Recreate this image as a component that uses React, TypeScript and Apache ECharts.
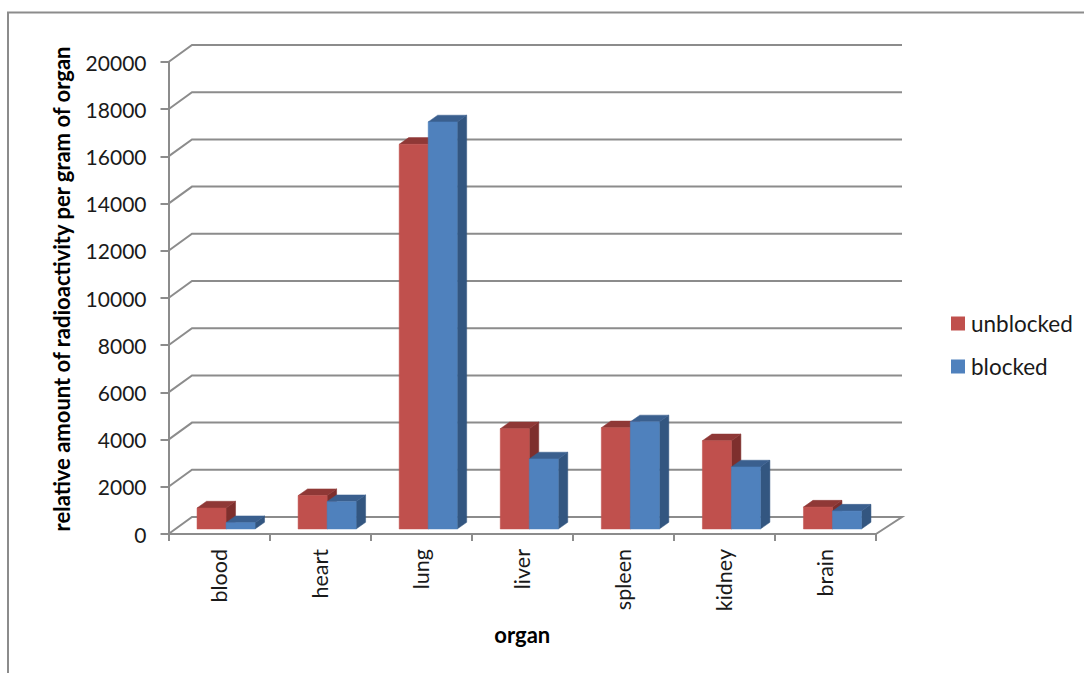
import React, { useEffect, useRef } from "react";
import * as echarts from "echarts";

const organs = ["blood", "heart", "lung", "liver", "spleen", "kidney", "brain"];
const unblocked = [890, 1415, 16300, 4250, 4290, 3740, 930];
const blocked = [270, 1160, 17250, 2970, 4540, 2630, 760];
const gridValues = [0, 2000, 4000, 6000, 8000, 10000, 12000, 14000, 16000, 18000, 20000];

const FONT = "Lato, 'Open Sans', sans-serif";
const LINE = "#8c8c8c";
const WALL = { dx: 23.5, dy: -17 };
const FLOOR = { dx: 7, dy: -5 };
const DEPTH = { dx: 9.5, dy: -6.7 };
const BAR_W = 29;

function barSeries(name: string, values: number[], offset: number, front: string, top: string, side: string) {
  return {
    type: "custom",
    name,
    silent: true,
    z: 5,
    itemStyle: { color: front },
    data: values.map((v, i) => [i, v]),
    encode: { x: 0, y: 1 },
    renderItem: (_: any, api: any) => {
      const t = api.coord([api.value(0), api.value(1)]);
      const b = api.coord([api.value(0), 0]);
      const x0 = t[0] + FLOOR.dx + offset * BAR_W;
      const x1 = x0 + BAR_W;
      const yt = t[1] + FLOOR.dy;
      const yb = b[1] + FLOOR.dy;
      const poly = (points: number[][], fill: string) => ({
        type: "polygon",
        shape: { points },
        style: { fill, stroke: fill, lineWidth: 0.5 },
      });
      return {
        type: "group",
        children: [
          poly([[x1, yb], [x1 + DEPTH.dx, yb + DEPTH.dy], [x1 + DEPTH.dx, yt + DEPTH.dy], [x1, yt]], side),
          poly([[x0, yt], [x0 + DEPTH.dx, yt + DEPTH.dy], [x1 + DEPTH.dx, yt + DEPTH.dy], [x1, yt]], top),
          poly([[x0, yt], [x1, yt], [x1, yb], [x0, yb]], front),
        ],
      };
    },
  };
}

export default function App() {
  const ref = useRef<HTMLDivElement>(null);
  useEffect(() => {
    const chart = echarts.init(ref.current!, undefined, { renderer: "svg" });
    chart.setOption({
      animation: false,
      backgroundColor: "#fff",
      textStyle: { fontFamily: FONT },
      grid: { left: 168.5, top: 62, width: 707.5, height: 472, containLabel: false },
      legend: {
        data: ["unblocked", "blocked"],
        orient: "vertical",
        left: 946,
        top: 307,
        itemWidth: 14,
        itemHeight: 14,
        itemGap: 20,
        icon: "rect",
        textStyle: { fontFamily: FONT, fontSize: 22.5, color: "#1a1a1a", padding: [0, 0, 0, 1] },
      },
      xAxis: {
        type: "category",
        data: organs,
        name: "organ",
        nameLocation: "middle",
        nameGap: 89,
        nameTextStyle: { fontFamily: FONT, fontSize: 22, fontWeight: "bold", color: "#000" },
        axisLine: { lineStyle: { color: LINE, width: 2 } },
        axisTick: { show: true, length: 7, alignWithLabel: false, lineStyle: { color: LINE, width: 2 } },
        axisLabel: { rotate: 90, margin: 15, fontFamily: FONT, fontSize: 21.5, color: "#1a1a1a" },
      },
      yAxis: {
        type: "value",
        min: 0,
        max: 20000,
        interval: 2000,
        name: "relative amount of radioactivity per gram of organ",
        nameLocation: "middle",
        nameGap: 96,
        nameRotate: 90,
        nameTextStyle: { fontFamily: FONT, fontSize: 22, fontWeight: "bold", color: "#000", padding: [0, 0, 0, 18] },
        splitLine: { show: false },
        axisLine: { show: true, lineStyle: { color: LINE, width: 2 } },
        axisTick: { show: true, length: 8, lineStyle: { color: LINE, width: 2 } },
        axisLabel: { margin: 22, fontFamily: FONT, fontSize: 21, color: "#1a1a1a", formatter: (v: number) => String(v) },
      },
      graphic: [
        {
          type: "polyline",
          silent: true,
          shape: { points: [[8, 673], [8, 12.5], [1084, 12.5]] },
          style: { fill: "none", stroke: LINE, lineWidth: 2 },
        },
      ],
      series: [
        {
          type: "custom",
          name: "walls",
          silent: true,
          z: 1,
          data: gridValues.map((v) => [0, v]),
          encode: { x: 0, y: 1 },
          renderItem: (params: any, api: any) => {
            const cs = params.coordSys;
            const y = api.coord([0, api.value(1)])[1];
            const points = [
              [cs.x, y],
              [cs.x + WALL.dx, y + WALL.dy],
              [cs.x + cs.width + 26, y + WALL.dy],
            ];
            if (api.value(1) === 0) points.push([cs.x + cs.width, y]);
            return {
              type: "polyline",
              shape: { points },
              style: { fill: "none", stroke: LINE, lineWidth: 2 },
            };
          },
        },
        barSeries("unblocked", unblocked, -1, "#C0504D", "#8F3836", "#7E2F2D"),
        barSeries("blocked", blocked, 0, "#4F81BD", "#3A5F8E", "#335680"),
      ],
    });
    return () => chart.dispose();
  }, []);
  return <div ref={ref} style={{ position: "fixed", left: 0, top: 0, width: 1084, height: 673 }} />;
}
